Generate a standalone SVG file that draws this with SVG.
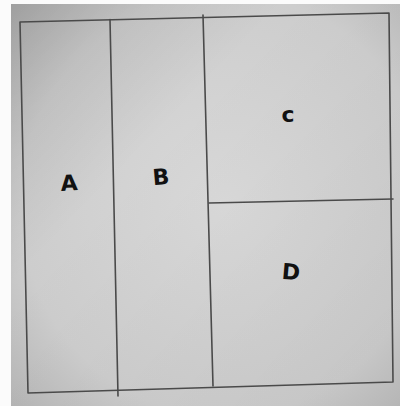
<svg xmlns="http://www.w3.org/2000/svg" width="400" height="406" viewBox="0 0 400 406">
<defs>
<radialGradient id="paper" cx="0.55" cy="0.5" r="0.75">
<stop offset="0" stop-color="#d9d9d9"/>
<stop offset="0.7" stop-color="#cdcdcd"/>
<stop offset="1" stop-color="#b4b4b4"/>
</radialGradient>
<linearGradient id="shade" x1="0" y1="0" x2="1" y2="1">
<stop offset="0" stop-color="#000" stop-opacity="0.12"/>
<stop offset="0.35" stop-color="#000" stop-opacity="0"/>
<stop offset="1" stop-color="#000" stop-opacity="0.04"/>
</linearGradient>
</defs>
<style>
.edge{fill:none;stroke:#4a4a4a;stroke-width:1.6;stroke-linejoin:round;stroke-linecap:round}
.lbl{font-family:"DejaVu Sans","Liberation Sans",sans-serif;font-size:22px;font-weight:bold;fill:#111;text-anchor:middle;dominant-baseline:central}
</style>
<rect x="0" y="0" width="400" height="406" fill="#fbfbfb"/>
<rect x="11" y="4" width="389" height="402" fill="url(#paper)"/>
<rect x="11" y="4" width="389" height="402" fill="url(#shade)"/>
<g id="frame">
<polygon class="edge" points="20,22 389,13 393,382 28,393"/>
</g>
<g id="connectors">
<line class="edge" x1="110" y1="19.5" x2="118" y2="396"/>
<line class="edge" x1="203" y1="15" x2="213" y2="386"/>
<line class="edge" x1="209" y1="203" x2="393" y2="199"/>
</g>
<g id="A"><text class="lbl" x="69" y="183" transform="rotate(-3 69 183)">A</text></g>
<g id="B"><text class="lbl" x="161" y="177" transform="rotate(-5 161 177)">B</text></g>
<g id="C"><text class="lbl" x="288" y="114">c</text></g>
<g id="D"><text class="lbl" x="291" y="272" transform="rotate(5 291 272)">D</text></g>
</svg>
